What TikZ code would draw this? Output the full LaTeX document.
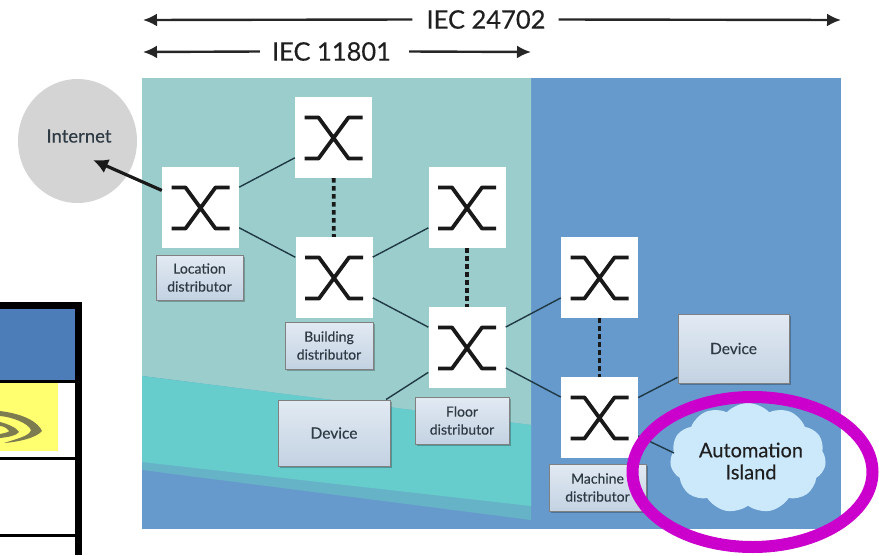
\documentclass[tikz,border=0pt]{standalone}
\usepackage{fontspec}
\setmainfont{Lato}[FakeBold=0.3]
\usetikzlibrary{arrows.meta,shapes.symbols,shapes.geometric,shadows}
\definecolor{paneL}{HTML}{9CCDCD}
\definecolor{paneR}{HTML}{6699CC}
\definecolor{bandT}{HTML}{66CCCC}
\definecolor{bandM}{HTML}{66B3C8}
\definecolor{tblue}{HTML}{4D7DB8}
\definecolor{boxtop}{HTML}{E2EAF3}
\definecolor{boxbot}{HTML}{C3D2E2}
\definecolor{ink}{HTML}{2E3A44}
\definecolor{magen}{HTML}{CC00CC}
\definecolor{cloudc}{HTML}{CCE9FC}
\definecolor{linkc}{HTML}{1F3A44}
\definecolor{tyellow}{HTML}{FFFF70}
\definecolor{swoosh}{HTML}{7C7C50}
\newcommand{\px}[1]{\fontsize{#1}{#1}\selectfont}
\tikzset{
  x=1pt,y=-1pt,
  switchbox/.style={fill=white,minimum width=77pt,minimum height=81pt,inner sep=0pt,
    path picture={\draw[line width=3.8pt,black!90,line join=round]
      ([shift={(-29pt,-21pt)}]path picture bounding box.center) -- ++(14pt,0) -- ++(30pt,41pt) -- ++(14pt,0)
      ([shift={(-29pt,20pt)}]path picture bounding box.center) -- ++(14pt,0) -- ++(30pt,-41pt) -- ++(14pt,0);}},
  labelbox/.style={draw=black!50,line width=1pt,top color=boxtop,bottom color=boxbot,
    text=ink,align=center,inner sep=0pt,font=\px{14},
    drop shadow={shadow xshift=1.5pt,shadow yshift=-1.5pt,opacity=.25,fill=black}},
  devicebox/.style={labelbox,font=\px{15.5}},
  linkline/.style={draw=linkc,line width=1.4pt},
  dotlink/.style={draw=black!90,line width=3.8pt,dash pattern=on 4.5pt off 3.5pt},
  iecarrow/.style={draw=black!85,line width=2.4pt,-{Latex[length=14pt,width=13pt]}},
  ieclabel/.style={text=black!88,font=\px{25.5},inner sep=0pt},
}
\begin{document}
\begin{tikzpicture}
\useasboundingbox (0,0) rectangle (879,555);
% panels
\fill[paneR] (142,78) rectangle (841,529);
\fill[paneL] (142,78) -- (531,78) -- (531,426) -- (142,376) -- cycle;
\fill[bandM] (142,376) -- (531,425) -- (531,520) -- (142,470) -- cycle;
\fill[bandT] (142,376) -- (531,425) -- (531,506) -- (142,462) -- cycle;
% table fragment
\fill[tblue] (0,308) rectangle (75,380);
\fill[tyellow] (0,382) rectangle (58,451);
\fill[swoosh] (0,411) .. controls (24,414) and (38,422) .. (42,431) .. controls (36,438) and (18,442) .. (4,443) .. controls (16,439) and (30,436) .. (31,430) .. controls (28,423) and (12,417) .. (0,416) -- cycle;
\fill[swoosh] (0,422) .. controls (8,424) and (17,428) .. (19,432) .. controls (16,436) and (8,437) .. (0,438) -- (0,434) .. controls (5,433) and (9,432) .. (9,431) .. controls (7,428) and (3,426) .. (0,426) -- cycle;
\fill[black] (0,302) rectangle (82,309);
\fill[black] (75,302) rectangle (82,555);
\fill[black] (0,380) rectangle (75,382.5);
\fill[black] (0,457) rectangle (75,460);
\fill[black] (0,534) rectangle (75,537);
% nodes
\node[ellipse,fill=black!17,minimum width=119pt,minimum height=124pt,inner sep=0pt] (inet) at (77.5,141) {};
\node[text=ink,font=\px{18.5},inner sep=0pt] (inetlabel) at (79,136) {Internet};
\coordinate (inetpt) at (93,160);
\node[switchbox] (s1) at (200.5,207.5) {};
\node[switchbox] (s2) at (333.5,137.5) {};
\node[switchbox] (s3) at (334,277.5) {};
\node[switchbox] (s4) at (467,207.5) {};
\node[switchbox] (s5) at (467,347.5) {};
\node[switchbox] (s6) at (599.5,277.5) {};
\node[switchbox] (s7) at (599.5,417.5) {};
\node[labelbox,minimum width=87pt,minimum height=45pt] (l1) at (199.5,277.5) {Location\\[4pt]distributor};
\node[labelbox,minimum width=88pt,minimum height=47pt] (l2) at (329,345.5) {Building\\[4pt]distributor};
\node[labelbox,minimum width=94pt,minimum height=47pt] (l3) at (462,420.5) {Floor\\[4pt]distributor};
\node[labelbox,minimum width=97pt,minimum height=47pt] (l4) at (597.5,487.5) {Machine\\[4pt]distributor};
\node[devicebox,minimum width=112pt,minimum height=66pt] (d1) at (334,433) {Device};
\node[devicebox,minimum width=111pt,minimum height=69pt] (d2) at (733.5,348.5) {Device};
\node[cloud,cloud puffs=11,cloud puff arc=95,aspect=1.4,fill=cloudc,minimum width=156pt,minimum height=110pt,inner sep=0pt] (cl) at (748,458) {};
\node[text=black!88,align=center,font=\px{20},inner sep=0pt] (cllabel) at (751,461) {Automation\\[2pt]Island};
\coordinate (clpt) at (674,453);
% connectors
\draw[linkline] (s1) -- (s2);
\draw[linkline] (s1) -- (s3);
\draw[linkline] (s3) -- (s4);
\draw[linkline] (s3) -- (s5);
\draw[linkline] (s5) -- (s6);
\draw[linkline] (s5) -- (s7);
\draw[linkline] (s5) -- (d1);
\draw[linkline] (s7) -- (d2);
\draw[linkline] (s7) -- (clpt);
\draw[dotlink] (s2) -- (s3);
\draw[dotlink] (s4) -- (s5);
\draw[dotlink] (s6) -- (s7);
\draw[draw=black!90,line width=3.2pt,-{Latex[length=15pt,width=15pt]}] (s1) -- (inetpt);
% IEC
\node[ieclabel] (i2) at (486,19.5) {IEC 24702};
\node[ieclabel] (i1) at (331.5,51.5) {IEC 11801};
\coordinate (a2l) at (143,20);
\coordinate (a2r) at (841,20);
\coordinate (a1l) at (143,52);
\coordinate (a1r) at (531,52);
\draw[iecarrow] ([xshift=-14pt]i2.west) -- (a2l);
\draw[iecarrow] ([xshift=13pt]i2.east) -- (a2r);
\draw[iecarrow] ([xshift=-12pt]i1.west) -- (a1l);
\draw[iecarrow] ([xshift=18pt]i1.east) -- (a1r);
% ring
\draw[magen,line width=12pt] (752.5,472) ellipse [x radius=120,y radius=75];
\end{tikzpicture}
\end{document}
